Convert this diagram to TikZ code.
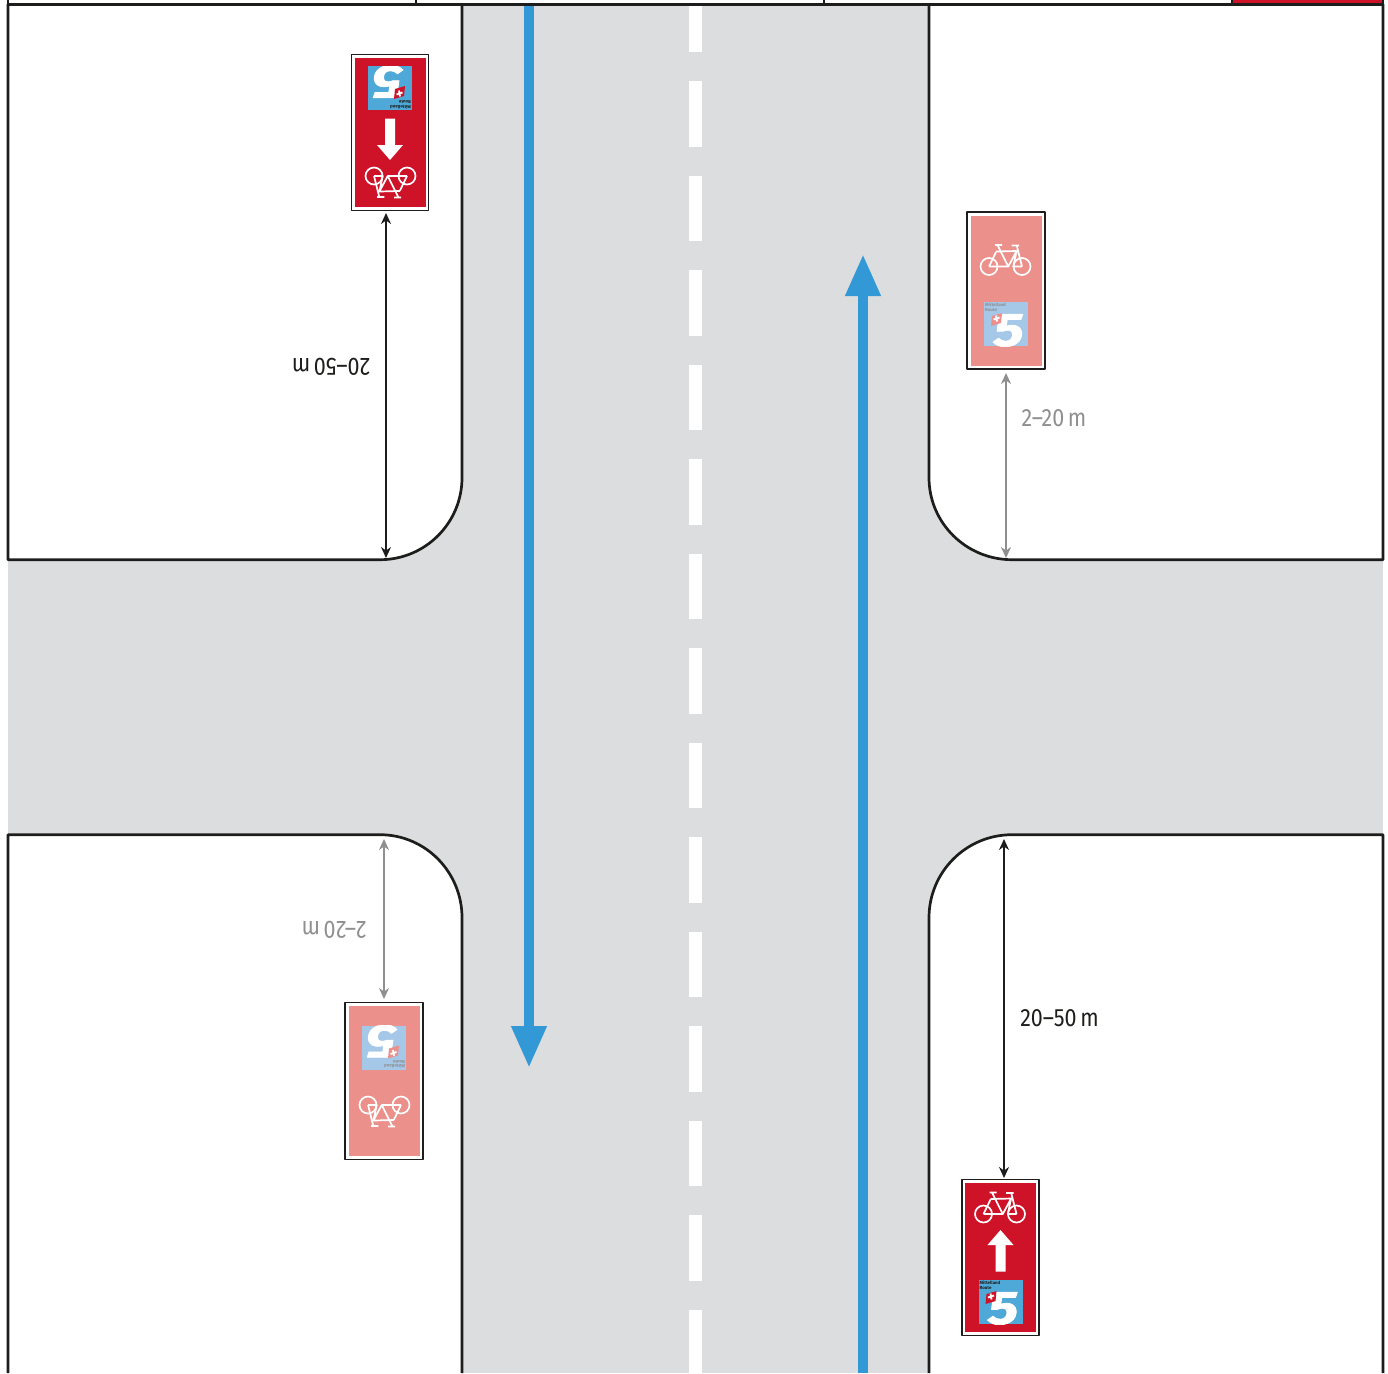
\documentclass[tikz,border=0pt]{standalone}
\usepackage{fontspec}
\setmainfont{Fira Sans}
\usetikzlibrary{arrows.meta,calc}
\usetikzlibrary{positioning}
\definecolor{signred}{HTML}{CE1228}
\definecolor{signpale}{HTML}{EB908B}
\definecolor{logoblue}{HTML}{4FA9D8}
\definecolor{logopale}{HTML}{A5C8E9}
\definecolor{roadgrey}{HTML}{DCDDDF}
\definecolor{routeblue}{HTML}{3399D6}
\definecolor{inkblack}{HTML}{1D1D1B}
\definecolor{dimgrey}{HTML}{8F8F8F}
\tikzset{
  kerb/.style={draw=inkblack,line width=2.7pt},
  routearrow/.style={draw=routeblue,line width=10pt,-{Triangle[length=42pt,width=33pt]}},
  dimblack/.style={draw=inkblack,line width=1.5pt,{Stealth[length=11pt,width=10pt]}-{Stealth[length=11pt,width=10pt]}},
  dimgray/.style={draw=dimgrey,line width=1.5pt,{Stealth[length=11pt,width=10pt]}-{Stealth[length=11pt,width=10pt]}},
  dimlabel/.style={font=\fontsize{25}{28}\selectfont,xscale=0.86,inner sep=0pt},
  routebike/.pic={
    \draw[white,line width=1.7pt,line join=round] (-17,6) circle (8.5) (16,6) circle (8.5);
    \draw[white,line width=1.7pt,line join=round] (-17,6) -- (2.3,6) -- (-8.3,-15) (-10,-8.5) -- (-17,6)
      (-10,-9) -- (10.6,-9.5) -- (2.3,6) (16,6) -- (7.3,6) -- (10.6,-9.5) (16,6) -- (10.7,-15)
      (-11,-15.5) -- (-4,-15.5) (5.7,-15) -- (13,-15);
  },
  routelogo/.pic={
    \fill[logofill] (-22,-22) rectangle (22,22);
    \begin{scope}
      \clip (-22,-22) rectangle (22,22);
      \node[white,inner sep=0pt,xslant=0.14,xscale=1.2,font=\fontsize{47}{47}\selectfont\bfseries\addfontfeature{FakeBold=1.5}] at (3,6.5) {5};
    \end{scope}
    \fill[logoflag] (-14,-8) -- (-4,-11) -- (-5,-1) -- (-15,2) -- cycle;
    \draw[white,line width=1.8pt] (-12.5,-4.5) -- (-6.5,-6.5) (-10,-8.5) -- (-9,-2.5);
    \node[logoink,anchor=north west,align=left,inner sep=0pt,font=\fontsize{4.4}{4.6}\selectfont\bfseries] at (-21,-21) {Mittelland\\Route};
  },
  redsign/.pic={
    \colorlet{logofill}{logoblue}\colorlet{logoink}{inkblack}\colorlet{logoflag}{signred}
    \draw[draw=inkblack,fill=white,line width=1.2pt] (-38.5,-78) rectangle (38.5,78);
    \fill[signred] (-35.5,-74.5) rectangle (35.5,74.5);
    \pic at (0,-49.5) {routebike};
    \fill[white] (0,-27.5) -- (13,-12.5) -- (5,-12.5) -- (5,14) -- (-5,14) -- (-5,-12.5) -- (-13,-12.5) -- cycle;
    \pic at (0,44.5) {routelogo};
  },
  palesign/.pic={
    \colorlet{logofill}{logopale}\colorlet{logoink}{dimgrey}\colorlet{logoflag}{signpale}
    \draw[draw=inkblack,fill=white,line width=1.2pt] (-39,-78.5) rectangle (39,78.5);
    \fill[signpale] (-35.5,-74.5) rectangle (35.5,75.5);
    \pic at (0,-30) {routebike};
    \pic at (0,33.5) {routelogo};
  }
}
\begin{document}
\begin{tikzpicture}[x=1pt,y=-1pt,every node/.style={transform shape},>=Stealth,line join=round]
\useasboundingbox (0,0) rectangle (1388,1373);
% road surface
\fill[roadgrey] (462,4) rectangle (929,1373);
\fill[roadgrey] (8,559.7) rectangle (1383,834.7);
\fill[roadgrey] (380,559.7) arc[start angle=-90,end angle=0,x radius=82,y radius=-82] -- (462,565) -- (380,565) -- cycle;
\fill[roadgrey] (1012,559.7) arc[start angle=270,end angle=180,x radius=83,y radius=-82] -- (929,565) -- (1012,565) -- cycle;
\fill[roadgrey] (380,834.7) arc[start angle=90,end angle=0,x radius=82,y radius=-83] -- (462,829) -- (380,829) -- cycle;
\fill[roadgrey] (1012,834.7) arc[start angle=90,end angle=180,x radius=83,y radius=-83] -- (929,829) -- (1012,829) -- cycle;
% centre line
\fill[white] (689,5.5) rectangle (702,52);
\foreach \dashy in {0,...,13} \fill[white] (689,81+94.5*\dashy) rectangle (702,146.5+94.5*\dashy);
\fill[white] (689,1310) rectangle (702,1373);
% route arrows
\coordinate (routeA) at (529,4); \coordinate (routeAend) at (529,1068);
\coordinate (routeB) at (863,1373); \coordinate (routeBend) at (863,254);
\draw[routearrow] (routeA) -- (routeAend);
\draw[routearrow] (routeB) -- (routeBend);
% kerbs
\draw[kerb] (8,4) -- (8,559.7) -- (380,559.7) arc[start angle=-90,end angle=0,x radius=82,y radius=-82] -- (462,4);
\draw[kerb] (1383,4) -- (1383,559.7) -- (1012,559.7) arc[start angle=270,end angle=180,x radius=83,y radius=-82] -- (929,4);
\draw[kerb] (8,1373) -- (8,834.7) -- (380,834.7) arc[start angle=90,end angle=0,x radius=82,y radius=-83] -- (462,1373);
\draw[kerb] (1383,1373) -- (1383,834.7) -- (1012,834.7) arc[start angle=90,end angle=180,x radius=83,y radius=-83] -- (929,1373);
% strip along the top
\fill[signred] (1232,0) rectangle (1383,3);
\draw[inkblack,line width=3pt] (7,4) -- (1384,4);
\foreach \tickx in {8,416,824,1232,1383} \draw[inkblack,line width=2pt] (\tickx,0) -- (\tickx,4);
% signs
\pic[rotate=180] at (390,132.5) {redsign};
\pic at (1000.5,1257.5) {redsign};
\pic at (1006,290.5) {palesign};
\pic[rotate=180] at (384,1081) {palesign};
% distances
\coordinate (topA) at (386,213); \coordinate (topB) at (386,558);
\coordinate (rightA) at (1006,373); \coordinate (rightB) at (1006,558);
\coordinate (leftA) at (384,839); \coordinate (leftB) at (384,999);
\coordinate (lowA) at (1004,839); \coordinate (lowB) at (1004,1178);
\draw[dimblack] (topA) -- (topB);
\draw[dimgray] (rightA) -- (rightB);
\draw[dimgray] (leftA) -- (leftB);
\draw[dimblack] (lowA) -- (lowB);
\node[dimlabel,inkblack,rotate=180] (labelTop) at (331,367) {20–50\,m};
\node[dimlabel,dimgrey] (labelRight) at (1054,418) {2–20\,m};
\node[dimlabel,dimgrey,rotate=180] (labelLeft) at (334,930) {2–20\,m};
\node[dimlabel,inkblack] (labelLow) at (1059.5,1018.5) {20–50\,m};
\end{tikzpicture}
\end{document}
